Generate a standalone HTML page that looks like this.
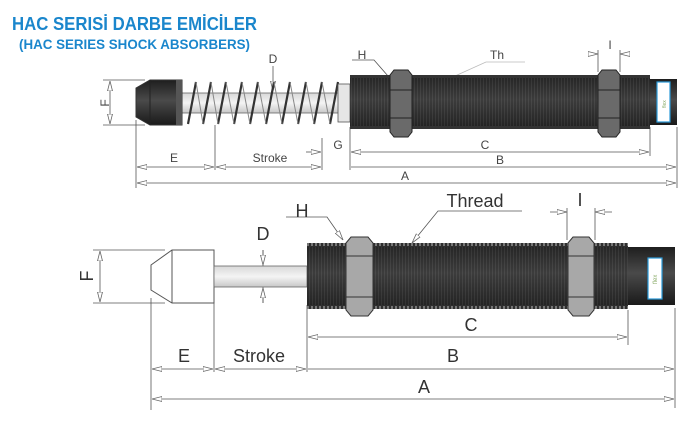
<!DOCTYPE html>
<html><head><meta charset="utf-8"><style>
html,body{margin:0;padding:0;background:#fff;}
svg{display:block;font-family:"Liberation Sans",Arial,sans-serif;}
</style></head><body>
<svg width="696" height="426" viewBox="0 0 696 426" xmlns="http://www.w3.org/2000/svg">
<defs>
<pattern id="thr" width="3" height="10" patternUnits="userSpaceOnUse">
<rect width="3" height="10" fill="#2e2e2e"/><rect width="1" height="10" fill="#4a4a4a"/>
</pattern>
<linearGradient id="cyl" x1="0" y1="0" x2="0" y2="1">
<stop offset="0" stop-color="#1e1e1e"/><stop offset="0.45" stop-color="#4a4a4a"/><stop offset="1" stop-color="#1a1a1a"/>
</linearGradient>
<linearGradient id="rod" x1="0" y1="0" x2="0" y2="1">
<stop offset="0" stop-color="#d8d8d8"/><stop offset="0.5" stop-color="#f4f4f4"/><stop offset="1" stop-color="#c8c8c8"/>
</linearGradient>
<marker id="ar" markerWidth="10" markerHeight="6" refX="10" refY="3" orient="auto-start-reverse" markerUnits="userSpaceOnUse">
<path d="M0,0.5 L10,3 L0,5.5 Z" fill="#fff" stroke="#666" stroke-width="0.8"/>
</marker>
</defs>

<!-- Titles -->
<text x="12" y="30" font-size="18" font-weight="bold" fill="#1a86cc" textLength="245" lengthAdjust="spacingAndGlyphs">HAC SERISİ DARBE EMİCİLER</text>
<text x="19" y="49" font-size="13.5" font-weight="bold" fill="#1a86cc" textLength="231" lengthAdjust="spacingAndGlyphs">(HAC SERIES SHOCK ABSORBERS)</text>

<!-- ============ TOP DIAGRAM ============ -->
<g stroke="#555" stroke-width="0.8" fill="none">
<line x1="103" y1="80" x2="145" y2="80"/><line x1="103" y1="125" x2="145" y2="125"/>
<line x1="110" y1="81" x2="110" y2="124" marker-start="url(#ar)" marker-end="url(#ar)"/>
<line x1="136" y1="120" x2="136" y2="188"/>
<line x1="215" y1="125" x2="215" y2="170"/>
<line x1="322" y1="138" x2="322" y2="170"/>
<line x1="350" y1="127" x2="350" y2="170"/>
<line x1="650" y1="127" x2="650" y2="156"/>
<line x1="677" y1="127" x2="677" y2="188"/>
<line x1="137" y1="167" x2="214" y2="167" marker-start="url(#ar)" marker-end="url(#ar)"/>
<line x1="216" y1="167" x2="321" y2="167" marker-start="url(#ar)" marker-end="url(#ar)"/>
<line x1="351" y1="167" x2="676" y2="167" marker-end="url(#ar)"/>
<line x1="137" y1="183" x2="676" y2="183" marker-start="url(#ar)" marker-end="url(#ar)"/>
<line x1="351" y1="152" x2="649" y2="152" marker-start="url(#ar)" marker-end="url(#ar)"/>
<line x1="306" y1="152" x2="321" y2="152" marker-end="url(#ar)"/>
<line x1="273" y1="66" x2="273" y2="91" marker-end="url(#ar)"/>
<polyline points="352,60 374,60 388,76" />
<polyline points="525,62 486,62 455,76" stroke="#bbb"/>
<line x1="598" y1="50" x2="598" y2="72"/><line x1="620" y1="50" x2="620" y2="72"/>
<line x1="588" y1="54" x2="598" y2="54" marker-end="url(#ar)"/>
<line x1="630" y1="54" x2="620" y2="54" marker-end="url(#ar)"/>
</g>
<g font-size="12" fill="#444" text-anchor="middle">
<text x="105" y="103" transform="rotate(-90 105 103)" dy="4">F</text>
<text x="273" y="63">D</text>
<text x="362" y="59">H</text>
<text x="490" y="59" text-anchor="start">Th</text>
<text x="610" y="49">I</text>
<text x="174" y="162">E</text>
<text x="270" y="162">Stroke</text>
<text x="338" y="149">G</text>
<text x="485" y="149">C</text>
<text x="500" y="164">B</text>
<text x="405" y="180">A</text>
</g>
<rect x="182" y="93" width="170" height="20" fill="url(#rod)" stroke="#666" stroke-width="0.8"/>
<g stroke="#333" stroke-width="2.2" fill="none">
<path d="M188,124 L196,82 M203,124 L211,82 M218,124 L226,82 M234,124 L242,82 M250,124 L258,82 M266,124 L274,82 M282,124 L290,82 M298,124 L306,82 M314,124 L322,82 M330,124 L338,82"/>
</g>
<g stroke="#888" stroke-width="1" fill="none">
<path d="M196,82 L203,124 M211,82 L218,124 M226,82 L234,124 M242,82 L250,124 M258,82 L266,124 M274,82 L282,124 M290,82 L298,124 M306,82 L314,124 M322,82 L330,124"/>
</g>
<rect x="338" y="84" width="12" height="38" fill="#e6e6e6" stroke="#555" stroke-width="0.8"/>
<path d="M136,88 L150,80 L182,80 L182,125 L150,125 L136,117 Z" fill="url(#cyl)" stroke="#333" stroke-width="1"/>
<line x1="150" y1="80" x2="150" y2="125" stroke="#222"/>
<rect x="176" y="80" width="6" height="45" fill="#555"/>
<rect x="350" y="75" width="300" height="54" fill="#333"/>
<rect x="350" y="78" width="300" height="48" fill="url(#thr)"/>
<rect x="350" y="78" width="300" height="48" fill="url(#cyl)" opacity="0.5"/>
<rect x="650" y="79" width="27" height="46" fill="url(#cyl)"/>
<rect x="657" y="82" width="13" height="40" fill="#fff" stroke="#2a9ad8" stroke-width="1.2"/>
<text x="666" y="108" font-size="5" fill="#8a6" transform="rotate(-90 666 108)">flex</text>
<g stroke="#222" stroke-width="1" fill="#6a6a6a">
<path d="M390,75 L394,70 L408,70 L412,75 L412,132 L408,137 L394,137 L390,132 Z"/>
<line x1="390" y1="90" x2="412" y2="90"/><line x1="390" y1="118" x2="412" y2="118"/>
<path d="M598,75 L602,70 L616,70 L620,75 L620,132 L616,137 L602,137 L598,132 Z"/>
<line x1="598" y1="90" x2="620" y2="90"/><line x1="598" y1="118" x2="620" y2="118"/>
</g>

<!-- ============ BOTTOM DIAGRAM ============ -->
<g stroke="#555" stroke-width="0.8" fill="none">
<line x1="93" y1="250" x2="165" y2="250"/><line x1="93" y1="303" x2="165" y2="303"/>
<line x1="100" y1="251" x2="100" y2="302" marker-start="url(#ar)" marker-end="url(#ar)"/>
<line x1="151" y1="298" x2="151" y2="410"/>
<line x1="214" y1="303" x2="214" y2="372"/>
<line x1="307" y1="305" x2="307" y2="372"/>
<line x1="628" y1="310" x2="628" y2="345"/>
<line x1="675" y1="308" x2="675" y2="408"/>
<line x1="152" y1="369" x2="213" y2="369" marker-start="url(#ar)" marker-end="url(#ar)"/>
<line x1="215" y1="369" x2="306" y2="369" marker-start="url(#ar)" marker-end="url(#ar)"/>
<line x1="308" y1="369" x2="674" y2="369" marker-end="url(#ar)"/>
<line x1="152" y1="399" x2="674" y2="399" marker-start="url(#ar)" marker-end="url(#ar)"/>
<line x1="308" y1="337" x2="627" y2="337" marker-start="url(#ar)" marker-end="url(#ar)"/>
<line x1="263" y1="250" x2="263" y2="303"/>
<line x1="263" y1="250" x2="263" y2="265" marker-end="url(#ar)"/>
<line x1="263" y1="303" x2="263" y2="288" marker-end="url(#ar)"/>
<polyline points="286,217 327,217 343,240" marker-end="url(#ar)"/>
<polyline points="522,211 438,211 412,243" marker-end="url(#ar)"/>
<line x1="567" y1="208" x2="567" y2="240"/><line x1="595" y1="208" x2="595" y2="240"/>
<line x1="550" y1="212" x2="567" y2="212" marker-end="url(#ar)"/>
<line x1="612" y1="212" x2="595" y2="212" marker-end="url(#ar)"/>
</g>
<g font-size="18" fill="#333" text-anchor="middle">
<text x="87" y="276" transform="rotate(-90 87 276)" dy="6">F</text>
<text x="263" y="240">D</text>
<text x="302" y="217">H</text>
<text x="475" y="207">Thread</text>
<text x="580" y="206">I</text>
<text x="184" y="362">E</text>
<text x="259" y="362">Stroke</text>
<text x="471" y="331">C</text>
<text x="453" y="362">B</text>
<text x="424" y="393">A</text>
</g>
<path d="M151,265 L172,250 L214,250 L214,303 L172,303 L151,290 Z" fill="#fff" stroke="#555" stroke-width="1"/>
<line x1="172" y1="250" x2="172" y2="303" stroke="#555"/>
<rect x="214" y="266" width="93" height="21" fill="url(#rod)" stroke="#666" stroke-width="0.8"/>
<rect x="307" y="243" width="321" height="66" fill="#2e2e2e"/>
<line x1="307" y1="244.5" x2="628" y2="244.5" stroke="#777" stroke-width="3" stroke-dasharray="2 2"/>
<line x1="307" y1="307.5" x2="628" y2="307.5" stroke="#777" stroke-width="3" stroke-dasharray="2 2"/>
<rect x="307" y="247" width="321" height="58" fill="url(#thr)"/>
<rect x="307" y="247" width="321" height="58" fill="url(#cyl)" opacity="0.5"/>
<rect x="628" y="247" width="47" height="58" fill="url(#cyl)"/>
<rect x="648" y="258" width="14" height="41" fill="#fff" stroke="#2a9ad8" stroke-width="1.2"/>
<text x="657" y="284" font-size="6" fill="#8a6" transform="rotate(-90 657 284)">flex</text>
<g stroke="#333" stroke-width="1" fill="#a8a8a8">
<path d="M346,243 L351,237 L368,237 L373,243 L373,310 L368,316 L351,316 L346,310 Z"/>
<line x1="346" y1="256" x2="373" y2="256"/><line x1="346" y1="297" x2="373" y2="297"/>
<path d="M568,243 L573,237 L589,237 L594,243 L594,310 L589,316 L573,316 L568,310 Z"/>
<line x1="568" y1="256" x2="594" y2="256"/><line x1="568" y1="297" x2="594" y2="297"/>
</g>
</svg>
</body></html>
